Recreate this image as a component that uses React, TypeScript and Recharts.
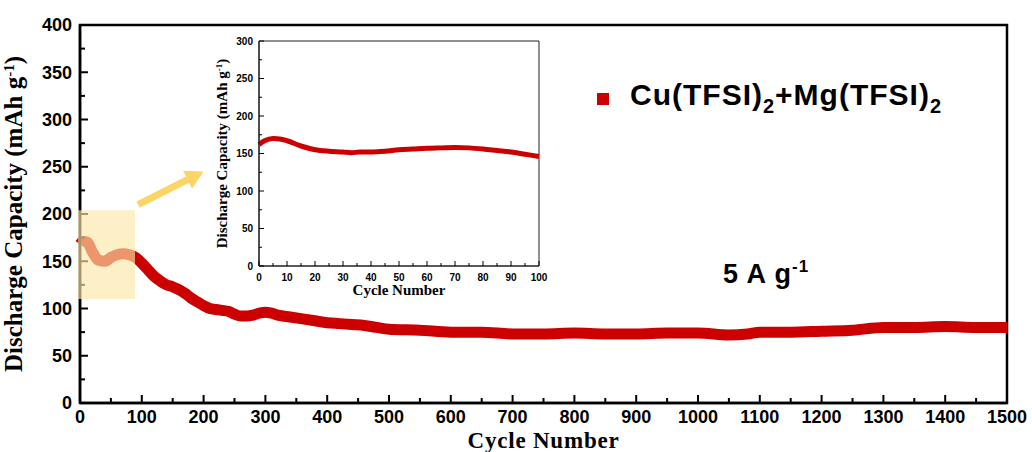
import { LineChart, Line, XAxis, YAxis, ReferenceArea, ReferenceLine } from 'recharts';

// main cycling data (5 A g-1)
const mainCycles = [0, 5, 12, 20, 30, 40, 50, 60, 70, 80, 90, 100, 110, 120, 130, 140, 150, 160, 170, 180, 190, 200, 210, 220, 230, 240, 250, 260, 270, 280, 290, 300, 310, 320, 340, 360, 380, 400, 420, 440, 460, 480, 500, 550, 600, 650, 700, 750, 800, 850, 900, 950, 1000, 1050, 1080, 1100, 1150, 1200, 1250, 1300, 1350, 1400, 1450, 1500];
const mainCapacity = [168, 171, 170, 160, 151, 150, 154, 157, 158, 157, 154, 148, 141, 134, 129, 125, 123, 120, 116, 111, 107, 103, 100, 99, 98, 97, 94, 92, 92, 93, 95, 96, 95, 93, 91, 89, 87, 85, 84, 83, 82, 80, 78, 77, 75, 75, 73, 73, 74, 73, 73, 74, 74, 72, 73, 75, 75, 76, 77, 80, 80, 81, 80, 80];

// zoomed first 100 cycles
const insetCycles = [0, 2, 5, 8, 10, 15, 20, 25, 30, 33, 36, 40, 45, 50, 55, 60, 65, 70, 75, 80, 85, 90, 95, 100];
const insetCapacity = [162, 167, 170, 169, 167, 160, 155, 153, 152, 151, 152, 152, 153, 155, 156, 157, 157.5, 158, 157.5, 156, 154, 152, 149, 146];

const mainXTicks = Array.from({ length: 31 }, (_, i) => i * 50);
const mainYTicks = Array.from({ length: 17 }, (_, i) => i * 25);
const insetXTicks = Array.from({ length: 21 }, (_, i) => i * 5);
const insetYTicks = Array.from({ length: 13 }, (_, i) => i * 25);

const seriesName = 'Cu(TFSI)2+Mg(TFSI)2';

const mainData = mainCycles.map((c, i) => ({ cycle: c, cap: mainCapacity[i] }));
const insetData = insetCycles.map((c, i) => ({ cycle: c, cap: insetCapacity[i] }));

const RED = '#CC0000';
const SANS = '"Liberation Sans", Arial, sans-serif';
const SERIF = '"Liberation Serif", "Times New Roman", serif';
const MAIN_MARGIN = { top: 25, right: 25, bottom: 48, left: 79 };

const makeYTick = (step: number, major: number, minor: number, gap: number, size: number, w: number) => (props: any) => {
    const { x, y, payload } = props;
    const isMajor = payload.value % step === 0;
    return (
        <g>
            <line x1={x} y1={y} x2={x + (isMajor ? major : minor)} y2={y} stroke="#000" strokeWidth={w} />
            {isMajor && (
                <text x={x - gap} y={y} dy="0.36em" textAnchor="end" fontFamily={SANS} fontWeight="bold" fontSize={size} fill="#000">
                    {payload.value}
                </text>
            )}
        </g>
    );
};

const makeXTick = (step: number, major: number, minor: number, gap: number, size: number, w: number) => (props: any) => {
    const { x, y, payload } = props;
    const isMajor = payload.value % step === 0;
    return (
        <g>
            <line x1={x} y1={y} x2={x} y2={y - (isMajor ? major : minor)} stroke="#000" strokeWidth={w} />
            {isMajor && (
                <text x={x} y={y + gap} textAnchor="middle" fontFamily={SANS} fontWeight="bold" fontSize={size} fill="#000">
                    {payload.value}
                </text>
            )}
        </g>
    );
};

const MainYTick = makeYTick(50, 8, 5, 8, 18, 2);
const MainXTick = makeXTick(100, 8, 5, 20, 18, 2);
const InsetYTick = makeYTick(50, 5, 3, 6, 10, 1);
const InsetXTick = makeXTick(10, 5, 3, 15, 10, 1);

const YTitle = (props: any) => {
    const vb = props.viewBox || { x: 0, y: 0, width: 0, height: 0 };
    const cx = vb.x + vb.width - props.off;
    const cy = vb.y + vb.height / 2;
    const s = props.size;
    return (
        <text x={cx} y={cy} transform={`rotate(-90, ${cx}, ${cy})`} textAnchor="middle" fontFamily={SERIF} fontWeight="bold" fontSize={s} fill="#000">
            Discharge Capacity (mAh g
            <tspan dy={-s * 0.33} fontSize={s * 0.6}>-1</tspan>
            <tspan dy={s * 0.33}>)</tspan>
        </text>
    );
};

const XTitle = (props: any) => {
    const vb = props.viewBox || { x: 0, y: 0, width: 0 };
    return (
        <text x={vb.x + vb.width / 2} y={vb.y + props.off} textAnchor="middle" fontFamily={SERIF} fontWeight="bold" fontSize={props.size} letterSpacing={props.spacing || 0} fill="#000">
            Cycle Number
        </text>
    );
};

const Arrow = (props: any) => {
    const { x1, y1, x2, y2 } = props;
    const ang = Math.atan2(y2 - y1, x2 - x1);
    const head = 18;
    const half = 10;
    const bx = x2 - head * Math.cos(ang);
    const by = y2 - head * Math.sin(ang);
    const px = -Math.sin(ang) * half;
    const py = Math.cos(ang) * half;
    return (
        <g>
            <line x1={x1} y1={y1} x2={bx} y2={by} stroke="#FDD565" strokeWidth={7} />
            <polygon points={`${x2},${y2} ${bx + px},${by + py} ${bx - px},${by - py}`} fill="#FDD565" />
        </g>
    );
};

export default function App() {
    return (
        <div style={{ position: 'absolute', left: 0, top: 0, width: 1032, height: 452, background: '#fff' }}>
            <LineChart width={1032} height={452} data={mainData} margin={MAIN_MARGIN}>
                <ReferenceArea x1={0} x2={1500} y1={0} y2={400} fill="none" stroke="#000" strokeWidth={2.5} />
                <XAxis
                    dataKey="cycle"
                    type="number"
                    domain={[0, 1500]}
                    ticks={mainXTicks}
                    interval={0}
                    height={1}
                    tickSize={0}
                    tickMargin={0}
                    tickLine={false}
                    tick={MainXTick}
                    axisLine={{ stroke: '#000', strokeWidth: 2.5 }}
                    label={<XTitle off={45} size={23} spacing={0.8} />}
                />
                <YAxis
                    type="number"
                    domain={[0, 400]}
                    ticks={mainYTicks}
                    interval={0}
                    width={1}
                    tickSize={0}
                    tickMargin={0}
                    tickLine={false}
                    tick={MainYTick}
                    axisLine={{ stroke: '#000', strokeWidth: 2.5 }}
                    label={<YTitle off={58} size={25} />}
                />
                <Line
                    dataKey="cap"
                    name={seriesName}
                    type="monotone"
                    stroke={RED}
                    strokeWidth={11}
                    dot={false}
                    isAnimationActive={false}
                />
            </LineChart>

            {/* highlight box + arrow, layered above the main curve */}
            <div style={{ position: 'absolute', left: 0, top: 0 }}>
                <LineChart width={1032} height={452} data={mainData} margin={MAIN_MARGIN}>
                    <XAxis dataKey="cycle" type="number" domain={[0, 1500]} height={1} tick={false} axisLine={false} tickLine={false} />
                    <YAxis type="number" domain={[0, 400]} width={1} tick={false} axisLine={false} tickLine={false} />
                    <Line dataKey="cap" stroke="transparent" strokeWidth={0} dot={false} isAnimationActive={false} legendType="none" />
                    <ReferenceArea x1={-3} x2={89} y1={110} y2={204} ifOverflow="visible" fill="#FCE6A8" fillOpacity={0.65} stroke="none" />
                    <ReferenceLine
                        segment={[{ x: 94, y: 210 }, { x: 200, y: 245 }]}
                        ifOverflow="visible"
                        shape={Arrow}
                    />
                </LineChart>
            </div>

            <div style={{ position: 'absolute', left: 200, top: 30 }}>
                <LineChart width={350} height={275} data={insetData} margin={{ top: 11, right: 11, bottom: 38, left: 58 }}>
                    <ReferenceArea x1={0} x2={100} y1={0} y2={300} fill="none" stroke="#222" strokeWidth={1} />
                    <XAxis
                        dataKey="cycle"
                        type="number"
                        domain={[0, 100]}
                        ticks={insetXTicks}
                        interval={0}
                        height={1}
                        tickSize={0}
                        tickMargin={0}
                        tickLine={false}
                        tick={InsetXTick}
                        axisLine={{ stroke: '#222', strokeWidth: 1.2 }}
                        label={<XTitle off={29} size={15} />}
                    />
                    <YAxis
                        type="number"
                        domain={[0, 300]}
                        ticks={insetYTicks}
                        interval={0}
                        width={1}
                        tickSize={0}
                        tickMargin={0}
                        tickLine={false}
                        tick={InsetYTick}
                        axisLine={{ stroke: '#222', strokeWidth: 1.2 }}
                        label={<YTitle off={32} size={15} />}
                    />
                    <Line
                        dataKey="cap"
                        name={seriesName}
                        type="monotone"
                        stroke={RED}
                        strokeWidth={5}
                        dot={false}
                        isAnimationActive={false}
                    />
                </LineChart>
            </div>

            <svg width={1032} height={452} style={{ position: 'absolute', left: 0, top: 0, pointerEvents: 'none' }}>
                <rect x={597} y={93} width={12} height={12} fill={RED} />
                <text x={630} y={105} fontFamily={SANS} fontWeight="bold" fontSize={30} letterSpacing={1} fill="#000">
                    Cu(TFSI)
                    <tspan dy={8} fontSize={20}>2</tspan>
                    <tspan dy={-8}>+Mg(TFSI)</tspan>
                    <tspan dy={8} fontSize={20}>2</tspan>
                </text>
                <text x={723} y={283} fontFamily={SANS} fontWeight="bold" fontSize={27} letterSpacing={1} fill="#000">
                    5 A g
                    <tspan dy={-11} fontSize={17}>-1</tspan>
                </text>
            </svg>
        </div>
    );
}
